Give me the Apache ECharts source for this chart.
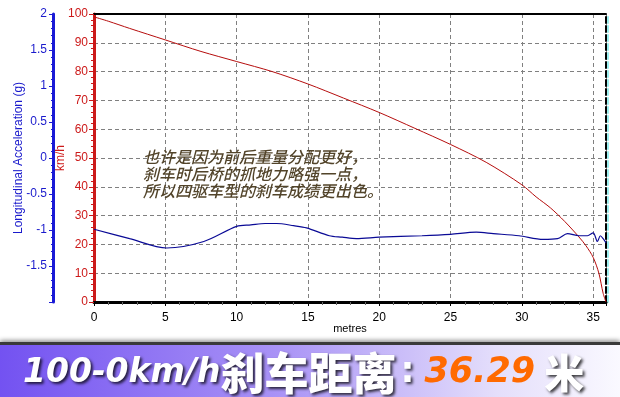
<!DOCTYPE html>
<html>
<head>
<meta charset="utf-8">
<script src="https://cdn.jsdelivr.net/npm/echarts@6/dist/echarts.min.js"></script>
<style>html,body{margin:0;padding:0;background:#fff}#c{width:620px;height:397px}</style>
</head>
<body>
<div id="c"></div>
<script>
// Speed (km/h) vs distance (metres)
var speedDist = [0, 1, 2.5, 5, 7.5, 10, 12.5, 15, 17.5, 20, 22.5, 25, 27.5, 30, 31, 32, 33, 34, 34.5, 35, 35.4, 35.7, 35.9];
var speedVal  = [99, 97.5, 95, 91, 87, 83.5, 80, 75.7, 70.8, 65.8, 60.3, 54.7, 48.5, 40.7, 36.5, 32.7, 28, 22.6, 19.5, 15.5, 10, 3, 0];
// Longitudinal acceleration (g) vs distance
var accDist = [0, 2.5, 5.1, 7.7, 10, 11, 12, 12.8, 14, 14.9, 16.5, 17.4, 18.4, 20, 23, 25, 26.8, 28, 29.8, 31.5, 32.5, 33.2, 34, 34.6, 35.0, 35.3, 35.5, 35.7, 35.9];
var accVal  = [-0.99, -1.12, -1.25, -1.16, -0.95, -0.93, -0.91, -0.91, -0.94, -0.97, -1.08, -1.10, -1.12, -1.10, -1.08, -1.06, -1.03, -1.05, -1.08, -1.13, -1.12, -1.05, -1.08, -1.08, -1.04, -1.16, -1.08, -1.12, -1.18];
var xMax = 35.9;
var annotation = ['也许是因为前后重量分配更好，', '刹车时后桥的抓地力略强一点，', '所以四驱车型的刹车成绩更出色。'];
var bannerParts = ['100-0km/h', '刹车距离', ':', '36.29', ' 米'];

function zip(a, b) { return a.map(function (v, i) { return [v, b[i]]; }); }

var chart = echarts.init(document.getElementById('c'), null, { renderer: 'canvas' });
var shadow = { textShadowColor: 'rgba(0,0,0,0.75)', textShadowBlur: 3, textShadowOffsetX: 2, textShadowOffsetY: 2 };
chart.setOption({
  backgroundColor: '#ffffff',
  animation: false,
  graphic: [
    { type: 'rect', z: 0, shape: { x: 0, y: 342, width: 620, height: 4 },
      style: { fill: '#3a3a3a', shadowBlur: 5, shadowColor: 'rgba(0,0,0,0.6)', shadowOffsetY: -1 } },
    { type: 'rect', z: 0, shape: { x: 0, y: 345, width: 620, height: 52 },
      style: { fill: new echarts.graphic.LinearGradient(0, 0, 1, 0, [
        { offset: 0, color: '#7352f1' }, { offset: 0.45, color: '#a993f6' },
        { offset: 0.8, color: '#e4defb' }, { offset: 1, color: '#faf9ff' }]) } }
  ],
  title: [
    { text: annotation.join('\n'), left: 138, top: 143, z: 10,
      textStyle: { fontFamily: 'Noto Sans CJK SC', fontSize: 16, lineHeight: 17, fontWeight: 500, fontStyle: 'italic', color: '#52442a' } },
    { text: '{a|' + bannerParts[0] + '}{b|' + bannerParts[1] + '}{c|' + bannerParts[2] + '}{d|' + bannerParts[3] + '}{e|' + bannerParts[4] + '}',
      left: 18, top: 346, z: 10,
      textStyle: { rich: {
        a: Object.assign({ fontFamily: 'DejaVu Sans', fontWeight: 'bold', fontStyle: 'italic', fontSize: 33, color: '#ffffff' }, shadow),
        b: Object.assign({ fontFamily: 'Noto Sans CJK SC', fontWeight: 900, fontSize: 44, color: '#ffffff' }, shadow),
        c: Object.assign({ fontFamily: 'DejaVu Sans', fontWeight: 'bold', fontSize: 35, color: '#ffffff', padding: [0, 10, 0, 4] }, shadow),
        d: { fontFamily: 'DejaVu Sans', fontWeight: 'bold', fontStyle: 'italic', fontSize: 35, color: '#ff6a00' },
        e: Object.assign({ fontFamily: 'Noto Sans CJK SC', fontWeight: 900, fontSize: 40, color: '#ffffff' }, shadow)
      } } }
  ],
  grid: { left: 94, right: 14, top: 14, bottom: 95, containLabel: false },
  xAxis: [
    { type: 'value', min: 0, max: xMax, interval: 5, position: 'bottom',
      name: 'metres', nameLocation: 'middle', nameGap: 21, nameMoveOverlap: false,
      nameTextStyle: { fontFamily: 'Liberation Sans', fontSize: 11, color: '#000' },
      axisLine: { onZero: false, lineStyle: { color: '#000', width: 3 } },
      axisTick: { show: true, length: 4, lineStyle: { color: '#000' } },
      minorTick: { show: true, splitNumber: 5, length: 3, lineStyle: { color: '#666' } },
      axisLabel: { fontFamily: 'Liberation Sans', fontSize: 12, color: '#000', margin: 10,
        formatter: function (v) { return v % 5 === 0 ? v : ''; } },
      splitLine: { show: true, lineStyle: { color: '#808080', type: [4, 3], width: 1 } } },
    { type: 'value', min: 0, max: xMax, position: 'top',
      axisLine: { onZero: false, lineStyle: { color: '#000', width: 2 } },
      axisTick: { show: false }, axisLabel: { show: false }, splitLine: { show: false } }
  ],
  yAxis: [
    { type: 'value', min: 0, max: 100, interval: 10, position: 'left', offset: 0,
      name: 'km/h', nameLocation: 'middle', nameGap: 27, nameRotate: 90, nameMoveOverlap: false,
      nameTextStyle: { fontFamily: 'Liberation Sans', fontSize: 12, color: '#cc1a1a' },
      axisLine: { show: true, onZero: false, lineStyle: { color: '#cc1a1a', width: 3 } },
      axisTick: { show: true, length: 5, lineStyle: { color: '#cc1a1a' } },
      minorTick: { show: true, splitNumber: 5, length: 3, lineStyle: { color: '#cc1a1a' } },
      axisLabel: { fontFamily: 'Liberation Sans', fontSize: 12, color: '#cc1a1a', margin: 6 },
      splitLine: { show: true, lineStyle: { color: '#808080', type: [4, 3], width: 1 } } },
    { type: 'value', min: -2, max: 2, interval: 0.5, position: 'left', offset: 41,
      name: 'Longitudinal Acceleration (g)', nameLocation: 'middle', nameGap: 28, nameRotate: 90, nameMoveOverlap: false,
      nameTextStyle: { fontFamily: 'Liberation Sans', fontSize: 12, color: '#1a1acc' },
      axisLine: { show: true, onZero: false, lineStyle: { color: '#1a1ad6', width: 3 } },
      axisTick: { show: true, length: 4, lineStyle: { color: '#1a1ad6' } },
      minorTick: { show: true, splitNumber: 5, length: 2, lineStyle: { color: '#1a1ad6' } },
      axisLabel: { fontFamily: 'Liberation Sans', fontSize: 12, color: '#1a1acc', margin: 6,
        formatter: function (v) { return v === -2 ? '' : v; } },
      splitLine: { show: false } },
    { type: 'value', min: 0, max: 100, position: 'right', offset: 0,
      axisLine: { show: true, onZero: false, lineStyle: { color: '#000', width: 2, type: [6, 3], shadowColor: '#9ff0f0', shadowOffsetX: 2 } },
      axisTick: { show: false }, axisLabel: { show: false }, splitLine: { show: false } }
  ],
  series: [
    { type: 'line', name: 'Speed', xAxisIndex: 0, yAxisIndex: 0, data: zip(speedDist, speedVal),
      smooth: 0.3, symbol: 'none', lineStyle: { color: '#b50d0d', width: 1 }, z: 5 },
    { type: 'line', name: 'Acceleration', xAxisIndex: 0, yAxisIndex: 1, data: zip(accDist, accVal),
      smooth: 0.3, symbol: 'none', lineStyle: { color: '#0a0a96', width: 1.2 }, z: 5 }
  ]
});
</script>
</body>
</html>
